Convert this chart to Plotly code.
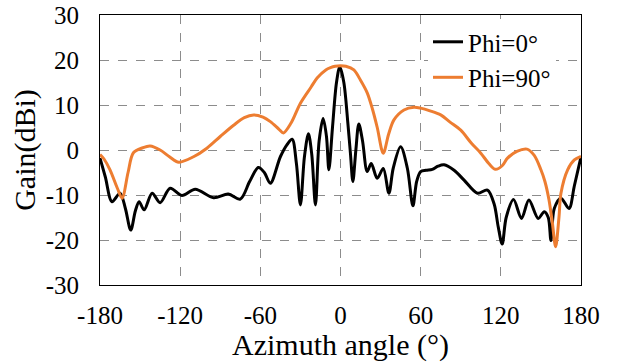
import plotly.graph_objects as go

# Phi = 0 deg (black)
ang0 = [-180, -176, -171, -165, -161, -157, -153.5, -150.7, -147, -141, -135, -127.5, -118.7,
        -108.7, -95, -84, -75, -68, -61.5, -57, -52.5, -45, -40, -36.2, -33, -30, -27, -24,
        -21.5, -18.75, -16, -13, -10.5, -8.7, -6, -3, -0.5, 2.5, 5.5, 7.5, 9.25, 11.5, 13.7,
        16.5, 20, 23, 27.5, 32, 36.2, 39.5, 45, 50, 54.2, 57, 60, 64, 68.7, 73, 77.5, 85, 92.5,
        102.5, 110, 115, 118, 121, 124, 129.5, 135.5, 141, 148, 152.5, 155.5, 157.5, 160,
        165, 171, 175, 180]
gain0 = [-1.8, -6, -11.5, -9.6, -13, -17.8, -13.5, -11.5, -13.3, -9.6, -11.7, -8.5, -10.1,
         -8.7, -10.6, -9.8, -10.9, -7, -3.9, -5, -7.4, -1.5, 1.2, 2.4, -3, -12.2, -1.5, 3.6,
         -1, -12.2, 2, 7, 3, -4.4, 5, 15, 18.5, 15, 6, -1, -7, 0, 5.8, 2, -4.8, -3, -6.3,
         -4.1, -9.6, -4, 0.7, -4, -12.4, -7, -4.8, -4.5, -4.3, -3.6, -3.3, -4.5, -6.7,
         -9.6, -8.9, -12, -17, -20.9, -15, -11, -15.2, -11.1, -15.2, -13.7, -15, -20.1,
         -13, -10.7, -13, -8, -1.5]

# Phi = 90 deg (orange)
ang90 = [-180, -177, -172.5, -167, -163.5, -159, -155, -148, -142.5, -135, -128, -121, -110,
         -100, -90, -80, -72, -65, -58, -52.5, -46, -42.75, -37, -30, -22, -17.5, -11, -7.5,
         -4, 0, 4, 10, 15, 20, 24, 27.5, 32, 36, 40, 47.5, 55, 60, 67, 75, 82, 90, 98, 105,
         111, 116, 121, 125, 132, 139.5, 145, 150, 153, 156, 158.5, 161, 163.5, 165, 170,
         175, 180]
gain90 = [-1, -2, -4.4, -8.5, -10.7, -5, -0.6, 0.5, 0.9, 0, -1.5, -2.7, -1.5, 0.4, 3, 5.5,
          7.2, 7.8, 7.3, 6.3, 4.6, 3.8, 6, 10.4, 14, 16, 17.8, 18.3, 18.6, 18.7, 18.6, 17.8,
          15.5, 12.7, 9, 5, -0.7, 3.5, 6.7, 8.9, 9.5, 9.3, 8.7, 7.8, 6.2, 4.4, 1.5, -0.7,
          -3, -4.3, -3.5, -1.8, -0.3, 0.2, -1.2, -4.4, -7, -11, -16, -21.5, -15, -9.6, -4.4,
          -2.2, -1.4]

x_ticks = [-180, -120, -60, 0, 60, 120, 180]
y_ticks = [-30, -20, -10, 0, 10, 20, 30]

FONT = "Liberation Serif"

fig = go.Figure()
fig.add_trace(go.Scatter(x=ang0, y=gain0, mode="lines", name="Phi=0°",
                         line=dict(color="#000000", width=3, shape="spline", smoothing=0.9)))
fig.add_trace(go.Scatter(x=ang90, y=gain90, mode="lines", name="Phi=90°",
                         line=dict(color="#ED7D31", width=3, shape="spline", smoothing=0.9)))

fig.update_layout(
    width=617, height=362,
    margin=dict(l=100, r=36, t=15, b=77, autoexpand=False),
    paper_bgcolor="white", plot_bgcolor="white",
    font=dict(family=FONT, size=25, color="black"),
    showlegend=True,
    legend=dict(x=0.948, y=0.985, xanchor="right", yanchor="top", bgcolor="white",
                font=dict(family=FONT, size=25, color="black"), itemwidth=30,
                tracegroupgap=0),
    xaxis=dict(range=[-180, 180], tickvals=x_ticks, ticktext=[str(v) for v in x_ticks],
               showgrid=True, gridcolor="#8c8c8c", griddash="dash", gridwidth=1,
               showline=True, linecolor="black", linewidth=1, mirror=True, automargin=False,
               zeroline=False, ticks="", ticklabelstandoff=8,
               title=dict(text="Azimuth angle (°)", standoff=17)),
    yaxis=dict(range=[-30, 30], tickvals=y_ticks, ticktext=[str(v) for v in y_ticks],
               showgrid=True, gridcolor="#8c8c8c", griddash="dash", gridwidth=1,
               showline=True, linecolor="black", linewidth=1, mirror=True, automargin=False,
               zeroline=False, ticks="", ticklabelstandoff=15,
               title=dict(text="Gain(dBi)", standoff=1)),
)

fig.write_html("out.html", post_script="document.body.style.margin='0';",
               config={"displayModeBar": False})
